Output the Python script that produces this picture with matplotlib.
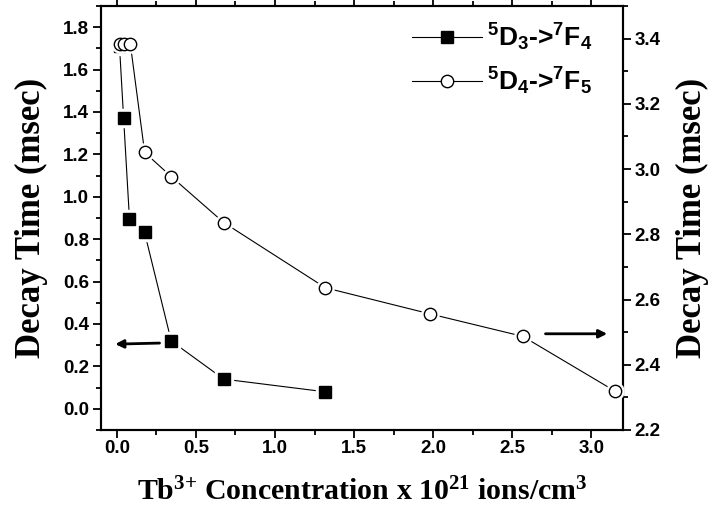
import matplotlib
matplotlib.use("Agg")
import matplotlib.pyplot as plt
from matplotlib.ticker import MultipleLocator, FormatStrFormatter
from matplotlib.lines import Line2D

# Data
conc_d3 = [0.017, 0.043, 0.08, 0.175, 0.344, 0.676, 1.319]
tau_d3 = [1.71, 1.37, 0.895, 0.833, 0.32, 0.14, 0.08]

conc_d4 = [0.017, 0.043, 0.085, 0.176, 0.344, 0.676, 1.319, 1.98, 2.567, 3.15]
tau_d4 = [3.385, 3.385, 3.385, 3.051, 2.977, 2.836, 2.636, 2.556, 2.487, 2.319]

label_d3 = r"$\mathsf{^{5}D_{3}}$->$\mathsf{^{7}F_{4}}$"
label_d4 = r"$\mathsf{^{5}D_{4}}$->$\mathsf{^{7}F_{5}}$"
xlabel = r"Tb$\mathbf{^{3{+}}}$ Concentration x 10$\mathbf{^{21}}$ ions/cm$\mathbf{^{3}}$"
ylabel = "Decay Time (msec)"

plt.rcParams['font.family'] = ['Liberation Sans', 'DejaVu Sans']
plt.rcParams['mathtext.fontset'] = 'custom'
plt.rcParams['mathtext.rm'] = 'Liberation Serif:bold'
plt.rcParams['mathtext.bf'] = 'Liberation Serif:bold'
plt.rcParams['mathtext.it'] = 'Liberation Serif:bold'
plt.rcParams['mathtext.sf'] = 'Liberation Sans:bold'

fig = plt.figure(figsize=(7.12, 5.16), dpi=100)
ax = fig.add_axes([101/712, 1-430/516, (623-101)/712, (430-6)/516])
ax2 = ax.twinx()

ms = 8.4
# series 1 (left axis)
ax.plot(conc_d3, tau_d3, color='black', lw=0.8, zorder=2)
ax.plot(conc_d3, tau_d3, ls='none', marker='s', ms=ms + 4, mfc='white', mec='white', zorder=3)
ax.plot(conc_d3, tau_d3, ls='none', marker='s', ms=ms, mfc='black', mec='black', zorder=4)

# series 2 (right axis)
ax2.plot(conc_d4, tau_d4, color='black', lw=0.8, zorder=2)
ax2.plot(conc_d4, tau_d4, ls='none', marker='o', ms=ms + 4, mfc='white', mec='white', zorder=3)
ax2.plot(conc_d4, tau_d4, ls='none', marker='o', ms=ms + 0.5, mfc='white', mec='black', mew=1.0, zorder=4)

ax.set_xlim(-0.1, 3.2)
ax.set_ylim(-0.1, 1.9)
ax2.set_ylim(2.2, 3.5)

ax.xaxis.set_major_locator(MultipleLocator(0.5))
ax.xaxis.set_minor_locator(MultipleLocator(0.25))
ax.yaxis.set_major_locator(MultipleLocator(0.2))
ax.yaxis.set_minor_locator(MultipleLocator(0.1))
ax2.yaxis.set_major_locator(MultipleLocator(0.2))
ax2.yaxis.set_minor_locator(MultipleLocator(0.1))

for a in (ax, ax2):
    for s in a.spines.values():
        s.set_linewidth(1.5)

ax.tick_params(axis='x', which='both', direction='out', top=True, bottom=True, width=1.3)
ax.tick_params(axis='x', which='major', length=6, pad=1)
ax.tick_params(axis='x', which='minor', length=3.5)
ax.tick_params(axis='y', which='major', direction='out', length=6, width=1.3, pad=2.5)
ax.tick_params(axis='y', which='minor', direction='out', length=3.5, width=1.3)
ax2.tick_params(axis='y', which='major', direction='out', length=6, width=1.3, pad=2.5)
ax2.tick_params(axis='y', which='minor', direction='out', length=3.5, width=1.3)

ax.xaxis.set_major_formatter(FormatStrFormatter('%.1f'))
ax.yaxis.set_major_formatter(FormatStrFormatter('%.1f'))
ax2.yaxis.set_major_formatter(FormatStrFormatter('%.1f'))

for lab in ax.get_xticklabels() + ax.get_yticklabels() + ax2.get_yticklabels():
    lab.set_fontweight('bold')
    lab.set_fontsize(13.5)

serif = ['Liberation Serif', 'DejaVu Serif']
ax.set_ylabel(ylabel, family=serif, fontweight='bold', fontsize=25, labelpad=11)
ax2.set_ylabel(ylabel, family=serif, fontweight='bold', fontsize=25, labelpad=11)
ax.set_xlabel(xlabel, family=serif, fontweight='bold', fontsize=21.5, labelpad=15)

# arrows
ax.annotate('', xy=(-0.01, 0.305), xytext=(0.27, 0.31),
            arrowprops=dict(arrowstyle='-|>', color='black', lw=2, mutation_scale=12,
                            shrinkA=0, shrinkB=0), zorder=5)
ax2.annotate('', xy=(3.1, 2.495), xytext=(2.71, 2.495),
             arrowprops=dict(arrowstyle='-|>', color='black', lw=2, mutation_scale=12,
                             shrinkA=0, shrinkB=0), zorder=5)

handles = [
    Line2D([], [], color='black', lw=0.8, marker='s', ms=ms, mfc='black', mec='black'),
    Line2D([], [], color='black', lw=0.8, marker='o', ms=ms + 0.5, mfc='white', mec='black'),
]
leg = ax2.legend(handles, [label_d3, label_d4], loc='upper right', frameon=False,
                 prop={'family': 'Liberation Sans', 'weight': 'bold', 'size': 19},
                 handlelength=2.65, handletextpad=0.2, labelspacing=0.45,
                 bbox_to_anchor=(1.0 - 15/522, 1.0), borderaxespad=0.2)

fig.savefig('out.png', dpi=100)
